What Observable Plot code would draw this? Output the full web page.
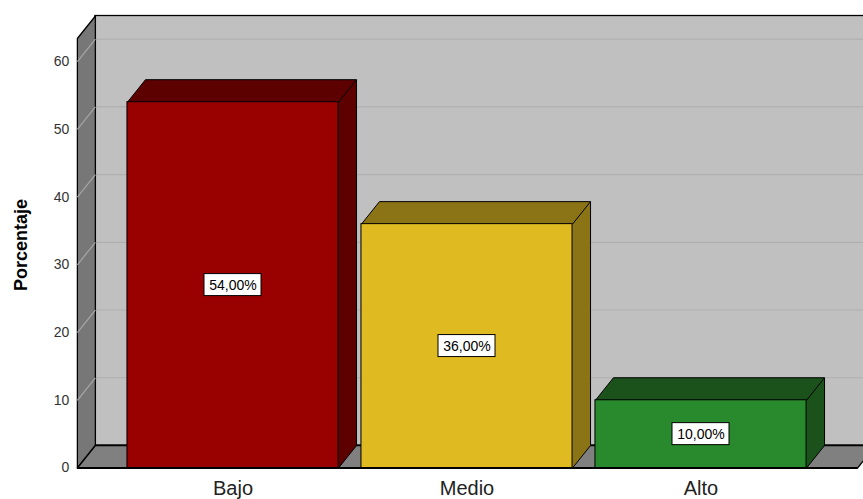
<!DOCTYPE html>
<html>
<head>
<meta charset="utf-8">
<script src="https://cdn.jsdelivr.net/npm/d3@7"></script>
<script src="https://cdn.jsdelivr.net/npm/@observablehq/plot@0.6"></script>
<style>
  html, body { margin: 0; padding: 0; background: #fff; }
  svg { display: block; }
</style>
</head>
<body>
<div id="chart"></div>
<script>
// ---- data ----
const categorias = ["Bajo", "Medio", "Alto"];
const porcentajes = [54, 36, 10];
const yTicks = [0, 10, 20, 30, 40, 50, 60];
const gridValues = [10, 20, 30, 40, 50, 60];
const yTitle = "Porcentaje";

// ---- styles ----
const coloresFrente = ["#990000", "#e0ba21", "#298a2d"];
const coloresSombra = ["#5c0000", "#8a7416", "#1b521c"];
const FONT = "'Liberation Sans', Arial, sans-serif";

// ---- layout (data units) ----
const YMAX = 63.4;            // top of the y axis
const X0 = -0.665;            // front-left corner of the 3D box (category index units)
const XF = 2.669;             // front-right end of the floor
const XR = 3.3;               // back wall extends beyond the frame
const DX = 18 / 234;          // depth offset in x units
const DY = 3.32;              // depth offset in y units
const HALF = 0.451;           // half bar width

const fmt = v => v.toFixed(2).replace(".", ",") + "%";

// polygons
const polys = [];
function poly(id, fill, pts) {
  pts.forEach(([x, y]) => polys.push({id, fill, x, y}));
  polys.push({id, fill, x: pts[0][0], y: pts[0][1]});
}
// left side wall
poly("side", "#777777", [[X0, 0], [X0, YMAX], [X0 + DX, YMAX + DY], [X0 + DX, DY]]);
// floor
poly("floor", "#808080", [[X0, 0], [XF, 0], [XF + DX, DY], [X0 + DX, DY]]);

const bars = categorias.map((c, i) => ({
  c, i, v: porcentajes[i], xl: i - HALF, xr: i + HALF,
  front: coloresFrente[i], shade: coloresSombra[i]
}));
const hulls = [];
bars.forEach(b => {
  const pts = [[b.xl, 0], [b.xl, b.v], [b.xl + DX, b.v + DY], [b.xr + DX, b.v + DY], [b.xr + DX, DY], [b.xr, 0]];
  pts.forEach(([x, y]) => hulls.push({id: b.c, fill: b.shade, x, y}));
  hulls.push({id: b.c, fill: b.shade, x: pts[0][0], y: pts[0][1]});
});

// label box half sizes (px converted to data units)
const PXX = 234, PXY = (467.5 - 38) / YMAX;
const BW = 28.5 / PXX, BH = 11 / PXY;

const plot = Plot.plot({
  width: 863,
  height: 499,
  margin: 0,
  x: {domain: [(77 - 232.5) / 234, (863 - 232.5) / 234], range: [77, 863], axis: null},
  y: {domain: [0, YMAX], range: [467.5, 38], axis: null},
  color: {type: "identity"},
  style: {fontFamily: FONT, background: "#fff", overflow: "hidden"},
  marks: [
    // back wall
    Plot.rect([{x1: X0 + DX, x2: XR, y1: DY, y2: YMAX + DY}],
      {x1: "x1", x2: "x2", y1: "y1", y2: "y2", fill: "#c0c0c0", stroke: "#000", strokeWidth: 1.3}),
    // back wall gridlines
    Plot.link(gridValues, {x1: () => X0 + DX, x2: () => XR, y1: d => d + DY, y2: d => d + DY,
      stroke: "#afafaf", strokeWidth: 1.2}),
    // side wall & floor
    Plot.line(polys, {x: "x", y: "y", z: "id", fill: "fill", stroke: "#000", strokeWidth: 1.3, curve: "linear"}),
    // side wall gridlines
    Plot.link(gridValues, {x1: () => X0, y1: d => d, x2: () => X0 + DX, y2: d => d + DY,
      stroke: "#a6a6a6", strokeWidth: 1.2}),
    // floor front edge
    Plot.link([0], {x1: () => X0, x2: () => XF, y1: () => 0, y2: () => 0, stroke: "#000", strokeWidth: 2}),
    // bars: top/side hull
    Plot.line(hulls, {x: "x", y: "y", z: "id", fill: "fill", stroke: "#000", strokeWidth: 1, curve: "linear"}),
    // bars: front faces
    Plot.rect(bars, {x1: "xl", x2: "xr", y1: () => 0, y2: "v", fill: "front", stroke: "#000", strokeWidth: 1}),
    // bars: top-right diagonal edge
    Plot.link(bars, {x1: "xr", y1: "v", x2: d => d.xr + DX, y2: d => d.v + DY, stroke: "#000", strokeWidth: 1}),
    // value label boxes
    Plot.rect(bars, {x1: d => d.i - BW, x2: d => d.i + BW, y1: d => d.v / 2 - BH, y2: d => d.v / 2 + BH,
      fill: "#fff", stroke: "#000", strokeWidth: 1}),
    Plot.text(bars, {x: "i", y: d => d.v / 2, text: d => fmt(d.v), fontSize: 14, fill: "#000"}),
    // y tick labels
    Plot.text(yTicks, {x: () => X0, y: d => d, text: d => String(d), textAnchor: "end", dx: -8,
      fontSize: 14, fill: "#333"}),
    // x category labels
    Plot.text(bars, {x: "i", frameAnchor: "bottom", dy: -5, text: "c", fontSize: 20, fill: "#222"}),
    // y title
    Plot.text([yTitle], {frameAnchor: "left", textAnchor: "middle", dx: 21, dy: -5, rotate: -90, text: d => d,
      fontSize: 18, fontWeight: "bold", fill: "#000"})
  ]
});
document.getElementById("chart").appendChild(plot);
</script>
</body>
</html>
